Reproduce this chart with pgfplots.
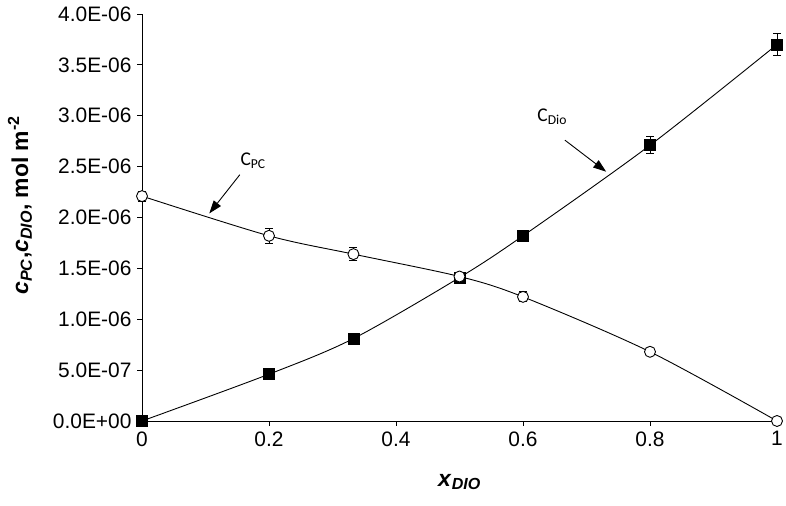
\documentclass[border=0pt]{standalone}
\usepackage{pgfplots}
\pgfplotsset{compat=1.18}
\usepackage{pgfplotstable}
\usepackage{fontspec}
\setmainfont{Liberation Sans}
\newfontfamily\calibri{Carlito}
\usetikzlibrary{arrows.meta}

\pgfplotstableread{
x y e
0 2.21 0.05
0.2 1.82 0.075
0.333 1.64 0.065
0.5 1.42 0.035
0.6 1.22 0.05
0.8 0.68 0.02
1 0 0
}\pcdata

\pgfplotstableread{
x y e
0 0 0
0.2 0.46 0.02
0.333 0.81 0.02
0.5 1.41 0.045
0.6 1.82 0.04
0.8 2.71 0.085
1 3.70 0.11
}\diodata

\begin{document}
\begin{tikzpicture}
\begin{axis}[
  scale only axis, width=635bp, height=407bp,
  xmin=0, xmax=1, ymin=0, ymax=4,
  axis x line*=bottom, axis y line*=left,
  axis line style={black, line width=0.9pt},
  tick align=outside, major tick length=5bp,
  tick style={black, line width=0.9pt},
  xtick={0,0.2,0.4,0.6,0.8,1},
  xticklabels={0,0.2,0.4,0.6,0.8,1},
  ytick={0,0.5,1,1.5,2,2.5,3,3.5,4},
  yticklabels={0.0E+00,5.0E-07,1.0E-06,1.5E-06,2.0E-06,2.5E-06,3.0E-06,3.5E-06,4.0E-06},
  tick label style={font=\fontsize{21}{24}\selectfont},
  xticklabel style={yshift=-2bp},
  yticklabel style={xshift=-2bp},
  xlabel={\textbf{\textit{x}\textsubscript{\textit{DIO}}}},
  ylabel={\textbf{\textit{c}\textsubscript{\textit{PC}},\textit{c}\textsubscript{\textit{DIO}}, mol m\textsuperscript{-2}}},
  label style={font=\fontsize{23}{26}\selectfont},
  xlabel style={at={(axis description cs:0.5,-0.150)}, anchor=center},
  ylabel style={at={(axis description cs:-0.192,0.53)}, anchor=center},
  clip=false,
]
\addplot[black, line width=0.9pt, smooth, tension=0.5,
  mark=square*, mark size=5.5bp, mark options={fill=black, solid},
  error bars/.cd, y dir=both, y explicit,
  error bar style={line width=1pt, black},
  error mark options={rotate=90, mark size=4bp, line width=1pt, black}]
  table[x=x, y=y, y error=e] {\diodata};
\addplot[black, line width=0.9pt, smooth, tension=0.5,
  mark=*, mark size=5.5bp, mark options={fill=white, draw=black, line width=0.9pt, solid},
  error bars/.cd, y dir=both, y explicit,
  error bar style={line width=1pt, black},
  error mark options={rotate=90, mark size=4bp, line width=1pt, black}]
  table[x=x, y=y, y error=e] {\pcdata};

\node[font=\calibri\fontsize{19.5}{22}\selectfont] at (axis cs:0.175,2.56) {C\textsubscript{PC}};
\draw[-{Triangle[length=13bp,width=9bp]}, line width=0.9pt] (axis cs:0.154,2.42) -- (axis cs:0.106,2.04);
\node[font=\calibri\fontsize{19.5}{22}\selectfont] at (axis cs:0.646,2.99) {C\textsubscript{Dio}};
\draw[-{Triangle[length=13bp,width=9bp]}, line width=0.9pt] (axis cs:0.666,2.76) -- (axis cs:0.731,2.45);
\end{axis}
\pgfresetboundingbox
\path ([shift={(-142bp,-85bp)}]current axis.south west) rectangle ([shift={(9bp,14bp)}]current axis.north east);
\end{tikzpicture}
\end{document}
